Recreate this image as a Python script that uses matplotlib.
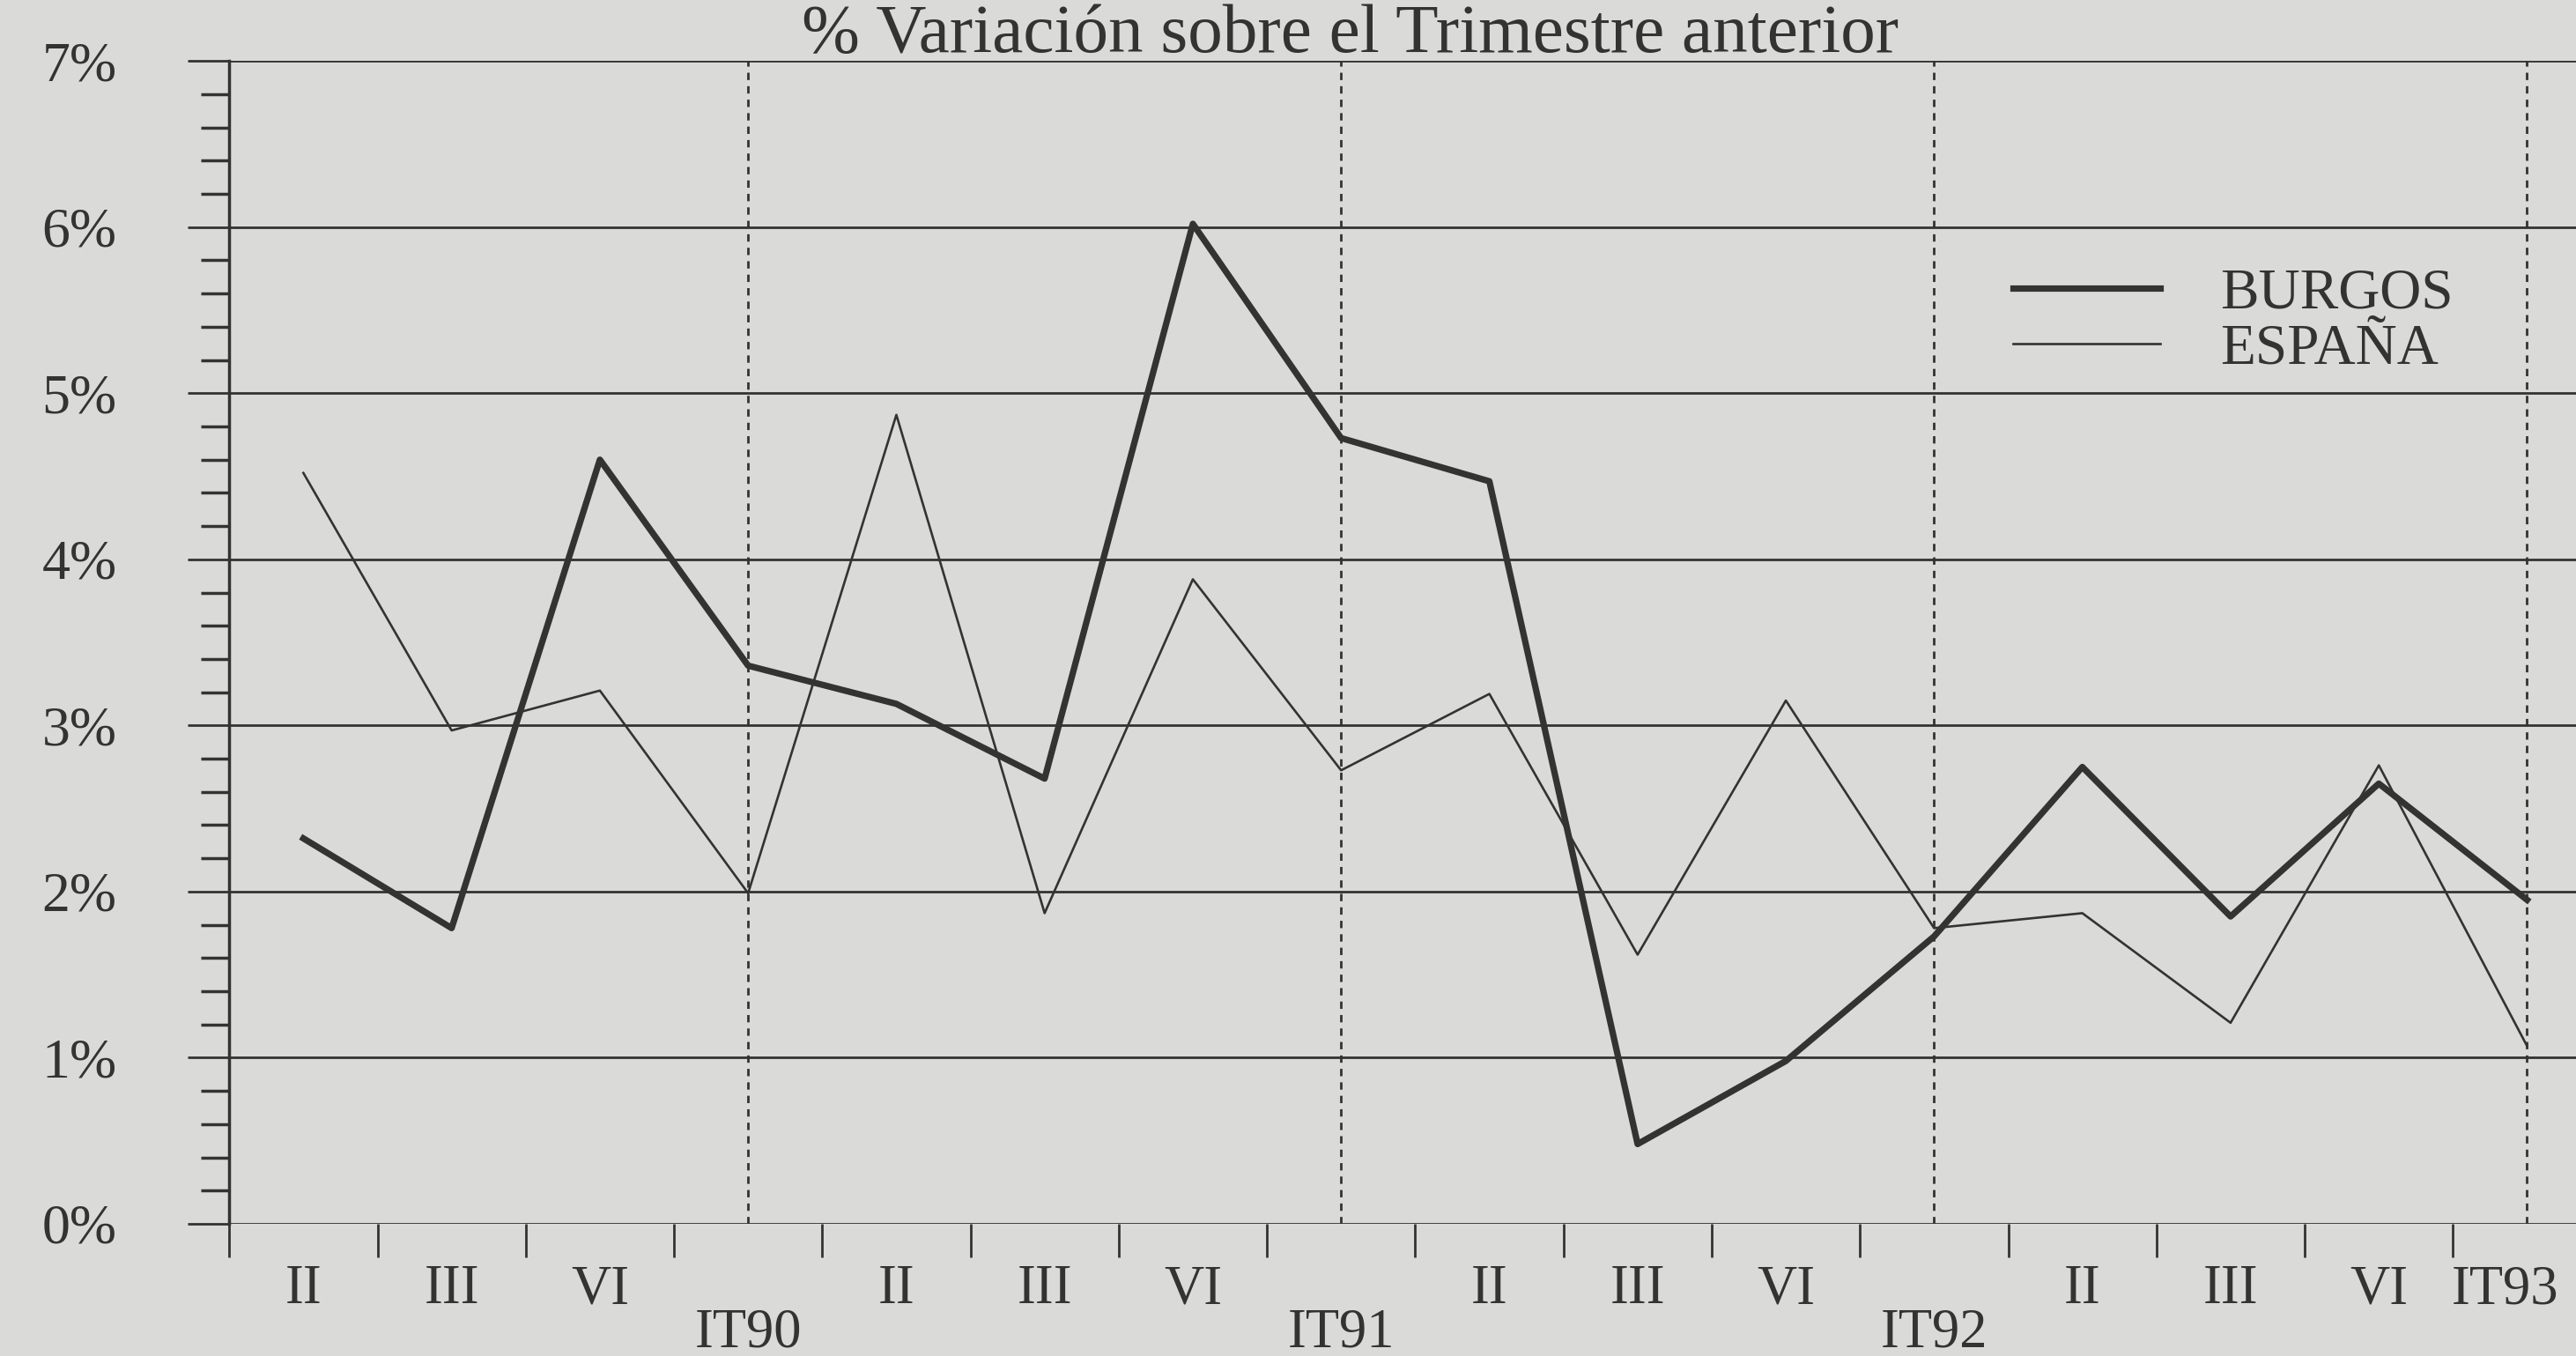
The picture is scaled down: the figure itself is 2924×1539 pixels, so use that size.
import matplotlib
matplotlib.use("Agg")
import matplotlib.pyplot as plt

# Datos
periodos = ['II', 'III', 'VI', 'IT90', 'II', 'III', 'VI', 'IT91',
            'II', 'III', 'VI', 'IT92', 'II', 'III', 'VI', 'IT93']
burgos = [2.32, 1.78, 4.60, 3.36, 3.13, 2.68, 6.02, 4.73,
          4.47, 0.48, 0.98, 1.73, 2.75, 1.85, 2.65, 1.95]
espana = [4.52, 2.97, 3.21, 1.99, 4.87, 1.87, 3.88, 2.73,
          3.19, 1.62, 3.15, 1.78, 1.87, 1.21, 2.76, 1.07]
y_labels = ['0%', '1%', '2%', '3%', '4%', '5%', '6%', '7%']

fondo = '#dadad8'
tinta = '#333333'

plt.rcParams['font.family'] = ['Liberation Serif', 'DejaVu Serif']

fig = plt.figure(figsize=(29.24, 15.39), dpi=100, facecolor=fondo)
ax = fig.add_axes([0.089, 0.0975, 0.911, 0.8575], facecolor=fondo)

xs = [i + 0.5 for i in range(len(periodos))]
ax.plot(xs, espana, color=tinta, lw=1.9, label='ESPAÑA', zorder=3)
ax.plot(xs, burgos, color=tinta, lw=5.2, label='BURGOS', zorder=4)

ax.set_xlim(0, 15.83)
ax.set_ylim(0, 7)

# Eje Y
ax.set_yticks(range(len(y_labels)))
ax.set_yticklabels(y_labels, fontsize=46, color=tinta)
ax.set_yticks([i * 0.2 for i in range(36) if i % 5], minor=True)
ax.tick_params(axis='y', which='major', direction='out', length=34, width=2,
               color=tinta, pad=58)
ax.tick_params(axis='y', which='minor', direction='out', length=23, width=2.5,
               color=tinta)
ax.yaxis.grid(True, color=tinta, lw=2)

# Eje X
ax.set_xticks(range(16))
ax.set_xticklabels([])
ax.tick_params(axis='x', which='major', direction='out', length=27, width=2,
               color=tinta)

for s in ['top', 'right', 'bottom']:
    ax.spines[s].set_visible(False)
ax.spines['left'].set_color(tinta)
ax.spines['left'].set_linewidth(2.5)

# Separadores de año
for x, lab in zip(xs, periodos):
    if lab.startswith('IT'):
        ax.axvline(x, color=tinta, lw=2, ls=(0, (3, 2.5)), zorder=2)

# Etiquetas del eje X
for x, lab in zip(xs, periodos):
    if lab == 'IT93':
        ax.text(x - 0.15, -0.4, lab, ha='center', va='center', fontsize=45,
                color=tinta, clip_on=False)
    elif lab.startswith('IT'):
        ax.text(x, -0.66, lab, ha='center', va='center', fontsize=45,
                color=tinta, clip_on=False)
    else:
        ax.text(x, -0.4, lab, ha='center', va='center', fontsize=45,
                color=tinta, clip_on=False)

# Leyenda
handles, labels = ax.get_legend_handles_labels()
leg = ax.legend(handles[::-1], labels[::-1], loc='upper left',
                bbox_to_anchor=(0.748, 0.847), frameon=False, fontsize=47,
                handlelength=2.55, handletextpad=1.05, labelspacing=0.05,
                borderpad=0)
for t in leg.get_texts():
    t.set_color(tinta)

fig.text(0.524, 0.962, '% Variación sobre el Trimestre anterior',
         ha='center', va='baseline', fontsize=57, color=tinta)

fig.savefig('out.png', dpi=100, facecolor=fondo)
